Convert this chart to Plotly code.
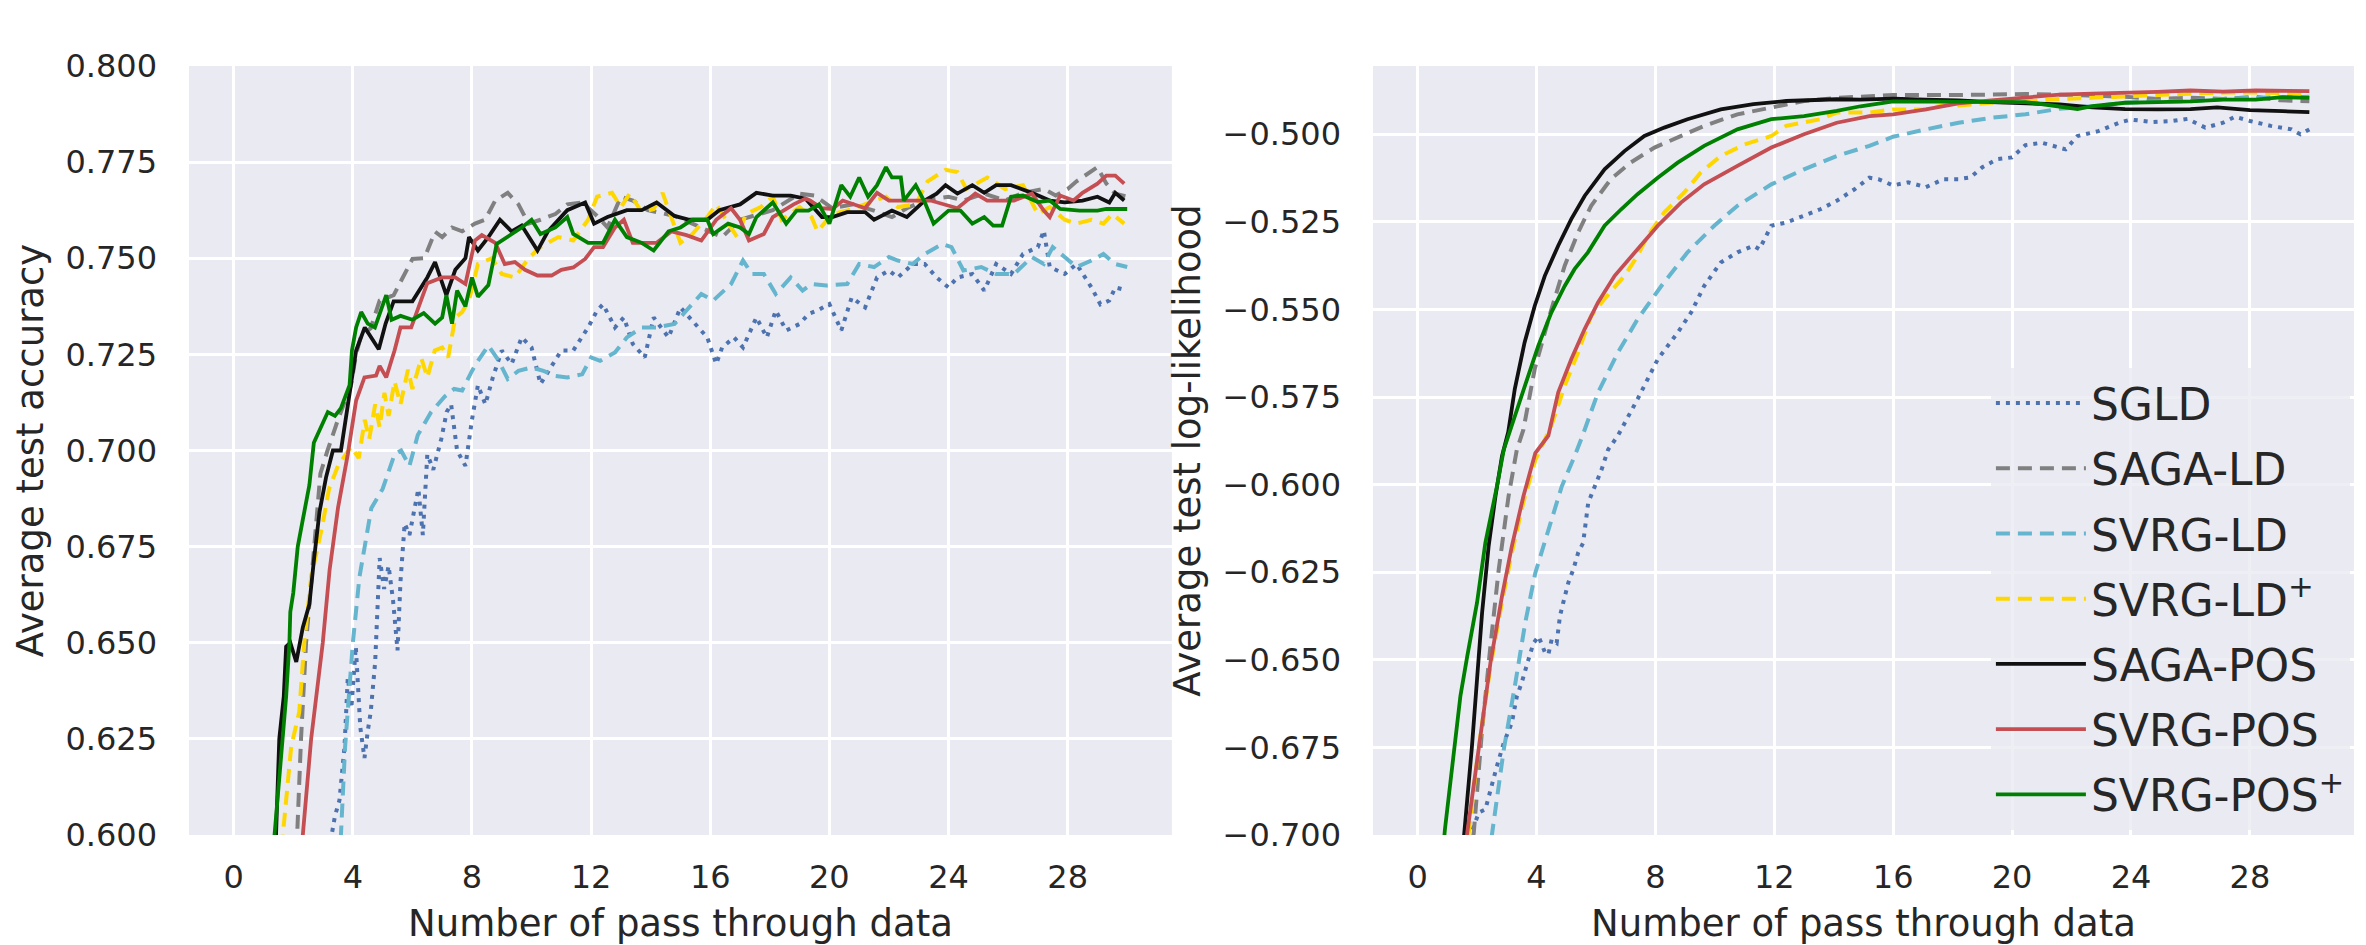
import plotly.graph_objects as go
from plotly.subplots import make_subplots

# ---- data ------------------------------------------------------------------

NAMES = ['SGLD', 'SAGA-LD', 'SVRG-LD', 'SVRG-LD<sup>+</sup>',
         'SAGA-POS', 'SVRG-POS', 'SVRG-POS<sup>+</sup>']

# left panel: average test accuracy
acc_sgld_x = [0, 3.2, 3.4, 3.55, 3.72, 3.83, 3.95, 4.1, 4.25, 4.39, 4.5, 4.6, 4.75, 4.9, 5.05,
              5.2, 5.35, 5.5, 5.6, 5.74, 5.9, 6.07, 6.2, 6.35, 6.5, 6.7, 6.97, 7.15, 7.3, 7.5,
              7.78, 8.0, 8.2, 8.45, 8.7, 9.0, 9.33, 9.67, 10.0, 10.3, 10.67, 11.0, 11.4, 11.9,
              12.2, 12.4, 12.8, 13.1, 13.4, 13.8, 14.1, 14.6, 15.0, 15.4, 15.9, 16.2, 16.4,
              16.8, 17.1, 17.55, 17.9, 18.2, 18.55, 19.0, 19.3, 19.6, 20.0, 20.4, 20.75, 21.2,
              21.6, 22.0, 22.3, 22.8, 23.2, 23.6, 24.0, 24.3, 24.8, 25.2, 25.6, 26.1, 26.5,
              27.0, 27.2, 27.4, 27.9, 28.3, 28.8, 29.1, 29.4, 29.6, 30.0]
acc_sgld_y = [0.50, 0.596, 0.605, 0.609, 0.623, 0.641, 0.633, 0.649, 0.628, 0.620, 0.627, 0.632,
              0.645, 0.672, 0.664, 0.670, 0.661, 0.648, 0.666, 0.681, 0.678, 0.685, 0.690, 0.678,
              0.699, 0.695, 0.703, 0.710, 0.712, 0.700, 0.696, 0.708, 0.717, 0.712, 0.719, 0.726,
              0.7225, 0.7294, 0.7268, 0.7173, 0.722, 0.726, 0.726, 0.732, 0.7364, 0.738, 0.732,
              0.7346, 0.7277, 0.7242, 0.7346, 0.7294, 0.7372, 0.7337, 0.7294, 0.7225, 0.7268,
              0.7294, 0.7268, 0.7346, 0.7294, 0.7364, 0.7312, 0.7329, 0.7355, 0.7364, 0.7381,
              0.7312, 0.7398, 0.7372, 0.745, 0.7468, 0.745, 0.7485, 0.7485, 0.745, 0.7424, 0.745,
              0.7459, 0.7416, 0.7485, 0.7459, 0.7511, 0.7529, 0.7572, 0.7477, 0.7459, 0.7485,
              0.7424, 0.738, 0.739, 0.7424, 0.7416]

acc_sagald_x = [0, 1.9, 2.13, 2.26, 2.43, 2.71, 2.91, 3.15, 3.5, 3.94, 4.1, 4.28, 4.6, 4.9, 5.37,
                6.0, 6.4, 6.76, 7.0, 7.33, 7.67, 8.1, 8.44, 8.78, 9.2, 9.56, 9.9, 10.3, 10.8,
                11.2, 11.7, 12.2, 12.55, 13.0, 13.4, 13.9, 14.8, 15.4, 16.4, 17.0, 18.1, 19.0,
                19.5, 20.1, 20.8, 21.5, 22.1, 22.6, 23.2, 24.0, 24.5, 25.2, 25.9, 26.5, 27.2,
                27.6, 28.0, 28.3, 28.8, 29.0, 29.3, 29.6, 30.0]
acc_sagald_y = [0.50, 0.585, 0.600, 0.625, 0.650, 0.676, 0.694, 0.700, 0.708, 0.717, 0.7247,
                0.730, 0.7318, 0.739, 0.7404, 0.7498, 0.750, 0.7569, 0.7555, 0.758, 0.757, 0.759,
                0.760, 0.765, 0.767, 0.764, 0.759, 0.760, 0.7615, 0.764, 0.7645, 0.761, 0.758,
                0.766, 0.765, 0.7625, 0.761, 0.759, 0.7555, 0.760, 0.7625, 0.7668, 0.7663, 0.763,
                0.764, 0.7624, 0.7607, 0.763, 0.765, 0.766, 0.765, 0.7668, 0.765, 0.767, 0.768,
                0.7663, 0.768, 0.770, 0.7728, 0.7737, 0.7694, 0.7668, 0.766]

acc_svrgld_x = [0, 3.45, 3.6, 3.74, 4.0, 4.22, 4.62, 5.0, 5.4, 5.62, 5.9, 6.18, 6.63, 7.08, 7.4,
                7.67, 8.0, 8.2, 8.55, 8.9, 9.2, 9.56, 10.0, 10.4, 10.8, 11.2, 11.7, 12.0, 12.3,
                12.8, 13.2, 13.7, 14.2, 14.8, 15.2, 15.7, 16.1, 16.7, 17.1, 17.4, 17.8, 18.2,
                18.7, 19.1, 19.4, 19.9, 20.6, 21.0, 21.5, 22.0, 22.3, 22.8, 23.2, 23.8, 24.1,
                24.5, 25.1, 25.6, 26.2, 26.8, 27.2, 27.5, 27.9, 28.3, 28.8, 29.2, 29.6, 30.0]
acc_svrgld_y = [0.50, 0.585, 0.600, 0.623, 0.650, 0.667, 0.685, 0.690, 0.699, 0.700, 0.696,
                0.704, 0.710, 0.714, 0.716, 0.7156, 0.7207, 0.7233, 0.7273, 0.7233, 0.7186,
                0.7207, 0.7216, 0.7207, 0.7194, 0.719, 0.7198, 0.7242, 0.7233, 0.7255, 0.7294,
                0.732, 0.732, 0.7329, 0.7364, 0.7407, 0.739, 0.7433, 0.7494, 0.7459, 0.7459,
                0.7407, 0.745, 0.7416, 0.7433, 0.7429, 0.7433, 0.7485, 0.7477, 0.7503, 0.7494,
                0.7485, 0.7511, 0.7537, 0.7529, 0.7468, 0.7477, 0.7459, 0.7459, 0.7503, 0.7485,
                0.7529, 0.7503, 0.7477, 0.7494, 0.7511, 0.7485, 0.7477]

acc_svrgldp_x = [0, 1.5, 1.65, 1.93, 2.2, 2.37, 2.6, 2.99, 3.2, 3.5, 3.94, 4.2, 4.4, 4.55, 4.75,
                 4.9, 5.06, 5.2, 5.4, 5.6, 5.85, 6.0, 6.3, 6.5, 6.75, 7.0, 7.2, 7.44, 7.67, 7.9,
                 8.2, 8.67, 9.0, 9.44, 9.9, 10.3, 10.9, 11.4, 11.9, 12.2, 12.7, 13.0, 13.3, 13.7,
                 14.1, 14.4, 14.8, 15.0, 15.4, 15.9, 16.2, 16.7, 16.9, 17.2, 17.7, 18.1, 18.4,
                 19.0, 19.4, 19.6, 20.1, 20.6, 21.2, 21.9, 22.3, 22.9, 23.3, 23.9, 24.3, 24.6,
                 25.3, 25.9, 26.5, 27.0, 27.4, 27.9, 28.3, 28.8, 29.2, 29.5, 29.9]
acc_svrgldp_y = [0.50, 0.590, 0.600, 0.623, 0.632, 0.650, 0.667, 0.681, 0.690, 0.696, 0.701,
                 0.698, 0.708, 0.703, 0.712, 0.706, 0.715, 0.709, 0.718, 0.712, 0.721, 0.716,
                 0.724, 0.719, 0.726, 0.7268, 0.7242, 0.7346, 0.736, 0.739, 0.7485, 0.750,
                 0.7459, 0.745, 0.750, 0.7529, 0.7555, 0.7546, 0.760, 0.766, 0.767, 0.7633,
                 0.7668, 0.762, 0.7628, 0.767, 0.758, 0.754, 0.7563, 0.7607, 0.764, 0.758, 0.7555,
                 0.7615, 0.7633, 0.766, 0.760, 0.7633, 0.7607, 0.757, 0.7615, 0.7624, 0.764,
                 0.766, 0.7633, 0.764, 0.770, 0.773, 0.7724, 0.768, 0.771, 0.768, 0.769, 0.7615,
                 0.7633, 0.760, 0.759, 0.760, 0.759, 0.7615, 0.759]

acc_sagapos_x = [0, 1.3, 1.42, 1.53, 1.68, 1.76, 1.9, 2.1, 2.32, 2.54, 2.7, 2.88, 3.1, 3.33, 3.6,
                 3.85, 4.11, 4.4, 4.87, 5.1, 5.37, 6.0, 6.5, 6.76, 7.14, 7.44, 7.78, 7.9, 8.2,
                 8.55, 8.94, 9.33, 9.67, 10.2, 10.55, 11.2, 11.8, 12.1, 12.55, 13.2, 13.7, 14.2,
                 14.8, 15.3, 15.9, 16.3, 17.0, 17.55, 18.1, 18.7, 19.2, 19.75, 20.1, 20.6, 21.2,
                 21.5, 22.1, 22.6, 23.2, 23.6, 23.9, 24.3, 24.8, 25.2, 25.6, 26.1, 26.8, 27.4,
                 27.9, 28.5, 29.0, 29.4, 29.6, 29.9]
acc_sagapos_y = [0.50, 0.585, 0.600, 0.625, 0.636, 0.649, 0.650, 0.645, 0.654, 0.660, 0.672,
                 0.684, 0.693, 0.700, 0.700, 0.712, 0.726, 0.732, 0.7263, 0.733, 0.7388, 0.7388,
                 0.745, 0.749, 0.7404, 0.747, 0.750, 0.7555, 0.752, 0.7555, 0.760, 0.757, 0.7585,
                 0.752, 0.757, 0.7625, 0.7645, 0.759, 0.7607, 0.7625, 0.7625, 0.7645, 0.761,
                 0.760, 0.760, 0.7625, 0.764, 0.767, 0.7663, 0.7663, 0.7655, 0.7607, 0.7607,
                 0.762, 0.762, 0.760, 0.7624, 0.7607, 0.765, 0.7668, 0.769, 0.7668, 0.769, 0.767,
                 0.769, 0.769, 0.767, 0.765, 0.7645, 0.765, 0.766, 0.7645, 0.767, 0.765]

acc_svrgpos_x = [0, 2.2, 2.32, 2.6, 2.99, 3.22, 3.5, 3.83, 4.11, 4.39, 4.78, 4.9, 5.12, 5.4, 5.6,
                 5.96, 6.5, 7.0, 7.44, 7.78, 8.1, 8.33, 8.78, 9.1, 9.44, 9.78, 10.2, 10.67, 11.0,
                 11.4, 11.8, 12.1, 12.4, 12.8, 13.1, 13.4, 14.2, 14.7, 15.2, 15.7, 16.2, 16.7,
                 17.0, 17.3, 17.8, 18.1, 18.8, 19.2, 19.35, 19.75, 20.1, 20.45, 21.2, 21.6, 22.0,
                 23.4, 24.3, 24.9, 25.3, 26.2, 26.8, 27.2, 27.4, 27.75, 28.2, 28.5, 29.0, 29.3,
                 29.6, 29.9]
acc_svrgpos_y = [0.50, 0.590, 0.600, 0.625, 0.650, 0.669, 0.685, 0.699, 0.713, 0.719, 0.7195,
                 0.722, 0.719, 0.726, 0.732, 0.732, 0.7435, 0.745, 0.745, 0.7433, 0.7546, 0.756,
                 0.754, 0.7485, 0.749, 0.747, 0.7455, 0.7455, 0.747, 0.7476, 0.7498, 0.7529,
                 0.7529, 0.758, 0.760, 0.754, 0.754, 0.757, 0.756, 0.7546, 0.760, 0.763, 0.760,
                 0.7546, 0.7563, 0.7607, 0.764, 0.7655, 0.765, 0.763, 0.7628, 0.765, 0.763, 0.767,
                 0.765, 0.765, 0.763, 0.7668, 0.765, 0.765, 0.7668, 0.7624, 0.7607, 0.7663, 0.765,
                 0.767, 0.7694, 0.7715, 0.7715, 0.7694]

acc_svrgposp_x = [0, 1.25, 1.37, 1.65, 1.76, 1.87, 1.9, 2.0, 2.15, 2.32, 2.54, 2.69, 2.94, 3.16,
                  3.4, 3.6, 3.89, 3.97, 4.11, 4.28, 4.5, 4.74, 5.12, 5.3, 5.6, 6.0, 6.38, 6.76,
                  7.0, 7.14, 7.33, 7.5, 7.78, 8.0, 8.2, 8.55, 8.83, 9.2, 9.67, 10.0, 10.3, 10.8,
                  11.2, 11.4, 11.9, 12.4, 12.8, 13.2, 13.7, 14.1, 14.6, 15.0, 15.4, 15.9, 16.1,
                  16.6, 17.0, 17.3, 17.55, 18.1, 18.55, 18.9, 19.3, 19.65, 20.0, 20.4, 20.7,
                  21.0, 21.3, 21.6, 21.9, 22.1, 22.4, 22.5, 22.9, 23.2, 23.5, 24.0, 24.4, 24.8,
                  25.2, 25.5, 25.8, 26.1, 26.5, 27.0, 27.4, 27.75, 28.4, 29.0, 29.3, 30.0]
acc_svrgposp_y = [0.50, 0.588, 0.600, 0.625, 0.636, 0.650, 0.658, 0.663, 0.675, 0.682, 0.691,
                  0.702, 0.706, 0.710, 0.709, 0.711, 0.717, 0.726, 0.732, 0.736, 0.733, 0.732,
                  0.7404, 0.734, 0.735, 0.734, 0.7357, 0.733, 0.7346, 0.7404, 0.733, 0.7416,
                  0.7375, 0.745, 0.740, 0.743, 0.7537, 0.7555, 0.758, 0.760, 0.7563, 0.758,
                  0.7607, 0.7563, 0.754, 0.754, 0.760, 0.7555, 0.754, 0.752, 0.757, 0.758, 0.760,
                  0.760, 0.7563, 0.759, 0.758, 0.7563, 0.7607, 0.7645, 0.759, 0.7624, 0.7624,
                  0.764, 0.759, 0.769, 0.766, 0.771, 0.766, 0.769, 0.7737, 0.771, 0.771, 0.765,
                  0.769, 0.7646, 0.759, 0.7624, 0.7624, 0.759, 0.7607, 0.7585, 0.7585, 0.766,
                  0.7663, 0.7646, 0.765, 0.7628, 0.7624, 0.7624, 0.7628, 0.7628]

# right panel: average test log-likelihood
ll_sgld_x = [0, 1.7, 1.83, 2.06, 2.28, 2.45, 2.67, 2.9, 3.17, 3.34, 3.5, 3.73, 3.9, 4.07, 4.29,
             4.4, 4.51, 4.68, 4.79, 4.9, 5.07, 5.24, 5.4, 5.57, 5.74, 5.96, 6.19, 6.41, 6.74,
             7.4, 8.08, 8.75, 9.2, 9.64, 10.2, 10.76, 11.3, 11.5, 11.9, 12.4, 13.0, 13.55, 14.1,
             14.7, 15.2, 15.5, 16.0, 16.5, 17.1, 17.7, 18.2, 18.6, 19.0, 19.5, 20.0, 20.45,
             21.0, 21.6, 21.8, 22.2, 22.9, 23.6, 24.0, 24.7, 25.4, 25.9, 26.5, 27.1, 27.5, 28.0,
             28.7, 29.4, 29.7, 30.0]
ll_sgld_y = [-0.80, -0.71, -0.699, -0.6936, -0.6927, -0.687, -0.6803, -0.6737, -0.668, -0.6604,
             -0.6566, -0.6499, -0.6452, -0.6433, -0.648, -0.6485, -0.6442, -0.6452, -0.6375,
             -0.6337, -0.628, -0.6242, -0.6195, -0.6166, -0.6052, -0.6005, -0.5957, -0.590,
             -0.586, -0.5756, -0.5642, -0.5566, -0.5509, -0.5433, -0.5366, -0.5337, -0.5318,
             -0.5328, -0.5261, -0.5252, -0.5233, -0.5214, -0.519, -0.5157, -0.5124, -0.5128,
             -0.5146, -0.5137, -0.5151, -0.5128, -0.5128, -0.5123, -0.5094, -0.5071, -0.5066,
             -0.5031, -0.5024, -0.5038, -0.5043, -0.5005, -0.4991, -0.4967, -0.4958, -0.4965,
             -0.4962, -0.4956, -0.4981, -0.4967, -0.495, -0.4962, -0.4976, -0.4986, -0.500,
             -0.4986]

ll_sagald_x = [0, 1.6, 1.89, 2.17, 2.45, 2.73, 3.06, 3.34, 3.56, 3.94, 4.5, 4.95, 5.4, 5.84,
               6.5, 7.18, 7.97, 8.75, 9.64, 10.76, 11.9, 13.0, 14.1, 15.2, 16.0, 18.2, 20.45,
               21.6, 22.7, 23.8, 24.9, 26.0, 27.1, 28.2, 29.0, 30.0]
ll_sagald_y = [-0.85, -0.715, -0.6994, -0.6699, -0.6461, -0.6242, -0.6033, -0.590, -0.5843,
               -0.567, -0.550, -0.5375, -0.528, -0.5204, -0.5128, -0.508, -0.5038, -0.501,
               -0.4976, -0.4943, -0.4924, -0.4905, -0.4896, -0.4891, -0.4888, -0.4888, -0.4885,
               -0.4887, -0.4889, -0.4893, -0.4899, -0.4896, -0.4899, -0.4893, -0.4903, -0.4906]

ll_svrgld_x = [0, 2.2, 2.5, 2.9, 3.29, 3.62, 3.96, 4.4, 4.85, 5.3, 5.55, 6.07, 6.74, 7.4, 8.2,
               9.08, 9.98, 10.76, 11.9, 13.0, 14.1, 15.2, 16.0, 17.1, 18.2, 19.3, 20.45, 21.6,
               22.7, 23.8, 24.9, 26.0, 27.1, 28.2, 30.0]
ll_svrgld_y = [-0.85, -0.72, -0.700, -0.6756, -0.6566, -0.6395, -0.6252, -0.6128, -0.6005,
               -0.5915, -0.586, -0.5737, -0.5623, -0.5528, -0.5433, -0.5337, -0.5261, -0.5204,
               -0.5143, -0.510, -0.5062, -0.5033, -0.5007, -0.4986, -0.4967, -0.4953, -0.4943,
               -0.4927, -0.4920, -0.4910, -0.4906, -0.4906, -0.4899, -0.4896, -0.4893]

ll_svrgldp_x = [0, 1.45, 1.72, 2.04, 2.45, 2.84, 3.17, 3.56, 3.96, 4.5, 4.95, 5.4, 5.84, 6.29,
                6.96, 7.4, 7.74, 8.3, 8.97, 9.53, 10.2, 11.0, 11.9, 12.4, 13.55, 14.1, 15.2,
                16.0, 17.1, 17.8, 18.2, 19.3, 20.45, 21.6, 22.7, 23.8, 24.9, 26.0, 27.1, 28.2,
                30.0]
ll_svrgldp_y = [-0.85, -0.715, -0.6994, -0.676, -0.652, -0.6335, -0.6195, -0.605, -0.593,
                -0.5832, -0.5718, -0.5623, -0.5518, -0.547, -0.5404, -0.5347, -0.529, -0.5223,
                -0.5166, -0.5109, -0.5062, -0.5029, -0.5005, -0.4976, -0.4957, -0.4938, -0.4938,
                -0.4929, -0.4929, -0.4915, -0.4918, -0.4910, -0.4906, -0.4899, -0.4896, -0.4891,
                -0.4888, -0.4884, -0.4881, -0.4881, -0.4884]

ll_sagapos_x = [0, 1.4, 1.59, 1.83, 2.0, 2.17, 2.39, 2.62, 2.84, 3.05, 3.27, 3.6, 3.94, 4.28,
                4.73, 5.17, 5.62, 6.29, 6.96, 7.63, 8.3, 9.08, 10.2, 11.3, 12.4, 14.1, 14.9,
                16.0, 17.1, 18.2, 19.3, 20.45, 21.6, 22.7, 23.8, 24.9, 26.0, 26.9, 28.0, 29.1,
                30.0]
ll_sagapos_y = [-0.85, -0.715, -0.6994, -0.6746, -0.6556, -0.6366, -0.6176, -0.6033, -0.5919,
                -0.585, -0.5727, -0.5594, -0.549, -0.5404, -0.5318, -0.5242, -0.5176, -0.510,
                -0.5048, -0.5005, -0.4981, -0.4957, -0.4929, -0.4914, -0.4905, -0.490, -0.4901,
                -0.4898, -0.4901, -0.4903, -0.4908, -0.4912, -0.4915, -0.4923, -0.4928, -0.4929,
                -0.4928, -0.4923, -0.4931, -0.4934, -0.4937]

ll_svrgpos_x = [0, 1.45, 1.67, 2.06, 2.45, 2.84, 3.17, 3.56, 3.96, 4.4, 4.73, 5.17, 5.62, 6.07,
                6.63, 7.4, 8.08, 8.86, 9.64, 10.76, 11.9, 13.0, 14.1, 15.2, 16.0, 17.1, 18.2,
                19.3, 20.45, 21.6, 22.7, 23.8, 24.9, 26.0, 27.1, 28.2, 30.0]
ll_svrgpos_y = [-0.85, -0.715, -0.6994, -0.6746, -0.6509, -0.6318, -0.6176, -0.6033, -0.591,
                -0.586, -0.5737, -0.5642, -0.5556, -0.548, -0.5404, -0.5328, -0.5261, -0.5195,
                -0.5143, -0.509, -0.5038, -0.500, -0.4967, -0.4948, -0.4943, -0.4929, -0.4912,
                -0.4903, -0.4894, -0.4887, -0.4884, -0.4882, -0.4879, -0.4875, -0.4878, -0.4875,
                -0.4877]

ll_svrgposp_x = [0, 0.8, 0.92, 1.17, 1.44, 1.67, 1.83, 2.0, 2.28, 2.5, 2.67, 2.9, 3.05, 3.39,
                 3.72, 4.06, 4.5, 4.95, 5.28, 5.73, 6.29, 6.85, 7.4, 8.08, 8.75, 9.64, 10.76,
                 11.9, 13.0, 14.1, 14.9, 16.0, 16.9, 18.2, 19.3, 20.45, 21.1, 21.8, 22.2, 22.7,
                 23.8, 24.9, 26.0, 27.1, 28.2, 29.1, 30.0]
ll_svrgposp_y = [-0.85, -0.71, -0.6984, -0.6794, -0.6604, -0.649, -0.6413, -0.6337, -0.6166,
                 -0.6081, -0.6005, -0.590, -0.586, -0.5775, -0.569, -0.5604, -0.5509, -0.5433,
                 -0.5385, -0.5337, -0.5261, -0.5214, -0.5171, -0.5124, -0.5081, -0.5033,
                 -0.4986, -0.4957, -0.4948, -0.4933, -0.492, -0.4906, -0.4906, -0.4908, -0.4908,
                 -0.4908, -0.4915, -0.4925, -0.4928, -0.4920, -0.4910, -0.4908, -0.4906,
                 -0.4901, -0.4901, -0.4894, -0.4896]

X_TICKS = [0, 4, 8, 12, 16, 20, 24, 28]
ACC_TICKS = [0.600, 0.625, 0.650, 0.675, 0.700, 0.725, 0.750, 0.775, 0.800]
LL_TICKS = [-0.700, -0.675, -0.650, -0.625, -0.600, -0.575, -0.550, -0.525, -0.500]

# ---- styling ----------------------------------------------------------------

COLORS = ['#4C72B0', '#808080', '#64B5CD', '#FFD700', '#111111', '#C44E52', '#008000']
DASHES = ['4px,6px', '14px,8px', '14px,8px', '14px,8px', 'solid', 'solid', 'solid']
WIDTHS = [4, 4, 4, 4, 3.8, 3.8, 3.8]
FONT = 'DejaVu Sans'
TXT = '#262626'

acc_series = [(acc_sgld_x, acc_sgld_y), (acc_sagald_x, acc_sagald_y),
              (acc_svrgld_x, acc_svrgld_y), (acc_svrgldp_x, acc_svrgldp_y),
              (acc_sagapos_x, acc_sagapos_y), (acc_svrgpos_x, acc_svrgpos_y),
              (acc_svrgposp_x, acc_svrgposp_y)]
ll_series = [(ll_sgld_x, ll_sgld_y), (ll_sagald_x, ll_sagald_y),
             (ll_svrgld_x, ll_svrgld_y), (ll_svrgldp_x, ll_svrgldp_y),
             (ll_sagapos_x, ll_sagapos_y), (ll_svrgpos_x, ll_svrgpos_y),
             (ll_svrgposp_x, ll_svrgposp_y)]

fig = make_subplots(rows=1, cols=2)

for i, (xs, ys) in enumerate(acc_series):
    fig.add_trace(go.Scatter(x=xs, y=ys, mode='lines', name=NAMES[i], showlegend=False,
                             line=dict(color=COLORS[i], width=WIDTHS[i], dash=DASHES[i])),
                  row=1, col=1)

for i, (xs, ys) in enumerate(ll_series):
    # one legend group per trace so tracegroupgap spaces the legend rows
    fig.add_trace(go.Scatter(x=xs, y=ys, mode='lines', name=NAMES[i], showlegend=True,
                             legendgroup='g%d' % i,
                             line=dict(color=COLORS[i], width=WIDTHS[i], dash=DASHES[i])),
                  row=1, col=2)

axis_common = dict(showgrid=True, gridcolor='white', gridwidth=2.5, zeroline=False,
                   showline=False, ticks='', automargin=False,
                   tickfont=dict(family=FONT, size=32, color=TXT),
                   title_font=dict(family=FONT, size=37, color=TXT))

fig.update_xaxes(range=[-1.5, 31.5], tickvals=X_TICKS, ticklabelstandoff=20,
                 title_text='Number of pass through data', title_standoff=22, **axis_common)
fig.update_xaxes(domain=[0.0799, 0.4953], row=1, col=1)
fig.update_xaxes(domain=[0.5803, 0.9949], row=1, col=2)

fig.update_yaxes(domain=[0.1164, 0.9302], ticklabelstandoff=31, tickformat='.3f', **axis_common)
fig.update_yaxes(range=[0.6, 0.8], tickvals=ACC_TICKS,
                 title_text='Average test accuracy', title_standoff=10, row=1, col=1)
fig.update_yaxes(range=[-0.7, -0.4805], tickvals=LL_TICKS,
                 title_text='Average test log-likelihood', title_standoff=10, row=1, col=2)

fig.update_layout(
    autosize=False,
    width=2366,
    height=945,
    margin=dict(l=0, r=0, t=0, b=0, autoexpand=False),
    paper_bgcolor='white',
    plot_bgcolor='#EAEAF2',
    font=dict(family=FONT, color=TXT),
    legend=dict(x=0.9932, y=0.1217, xanchor='right', yanchor='bottom',
                bgcolor='rgba(234,234,242,0.8)', borderwidth=0,
                font=dict(family=FONT, size=44, color=TXT),
                itemwidth=90, tracegroupgap=5),
)

fig.write_html("out.html",
               config={'displayModeBar': False, 'responsive': False},
               post_script="document.body.style.margin='0px';")
